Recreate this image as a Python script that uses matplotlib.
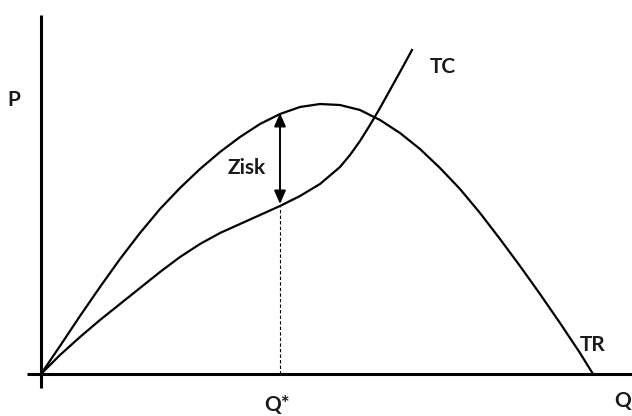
import matplotlib.pyplot as plt

# curve points (Q to the right, P upward, origin at the axes corner)
tr_q = [0, 19, 39, 59, 79, 99, 119, 139, 159, 179, 199, 219, 239, 259, 279, 299, 319, 339, 359, 379,
        399, 419, 439, 459, 479, 499, 519, 539, 552]
tr_p = [0, 28, 58, 87, 115, 141, 165, 186, 205, 222, 237, 250, 260, 267, 270, 269, 264, 254, 241, 225,
        206, 185, 161, 135, 108, 80, 51, 21, 0]
tc_q = [0, 19, 39, 59, 79, 99, 119, 139, 159, 179, 199, 219, 239, 259, 279, 299, 309, 319, 329, 339,
        349, 359, 371]
tc_p = [0, 19, 37, 54, 70, 86, 102, 117, 130, 141, 150, 159, 168, 178, 190, 207, 219, 233, 249, 266,
        284, 302, 324]
q_star = 239
zisk_top = 261
zisk_bottom = 170

fig = plt.figure(figsize=(6.32, 4.16), dpi=100)
ax = fig.add_axes([0, 0, 1, 1])
ax.set_xlim(-41, 591)
ax.set_ylim(-42, 374)
ax.axis('off')

# axes
ax.plot([-14, 591], [0, 0], color='black', lw=2.2, solid_capstyle='butt')
ax.plot([0, 0], [-14, 359], color='black', lw=2.2, solid_capstyle='butt')

ax.plot(tr_q, tr_p, color='black', lw=1.6, solid_joinstyle='round')
ax.plot(tc_q, tc_p, color='black', lw=1.6, solid_joinstyle='round')

ax.plot([q_star, q_star], [0, zisk_bottom - 3], color='black', lw=0.8, ls=(0, (3, 2)))
ax.annotate('', xy=(q_star, zisk_top), xytext=(q_star, zisk_bottom),
            arrowprops=dict(arrowstyle='<|-|>,head_length=0.8,head_width=0.35', color='black',
                            lw=1.4, shrinkA=0, shrinkB=0))

font = dict(family='Lato', fontweight='bold', fontsize=15, color='#1a1a1a')
ax.text(206, 206, 'Zisk', ha='center', va='center', **font)
ax.text(-27, 274, 'P', ha='center', va='center', **font)
ax.text(402, 307, 'TC', ha='center', va='center', **font)
ax.text(552, 29, 'TR', ha='center', va='center', **font)
ax.text(582, -27, 'Q', ha='center', va='center', **font)
ax.text(236, -31, 'Q*', ha='center', va='center', **font)

fig.savefig('out.png', dpi=100)
